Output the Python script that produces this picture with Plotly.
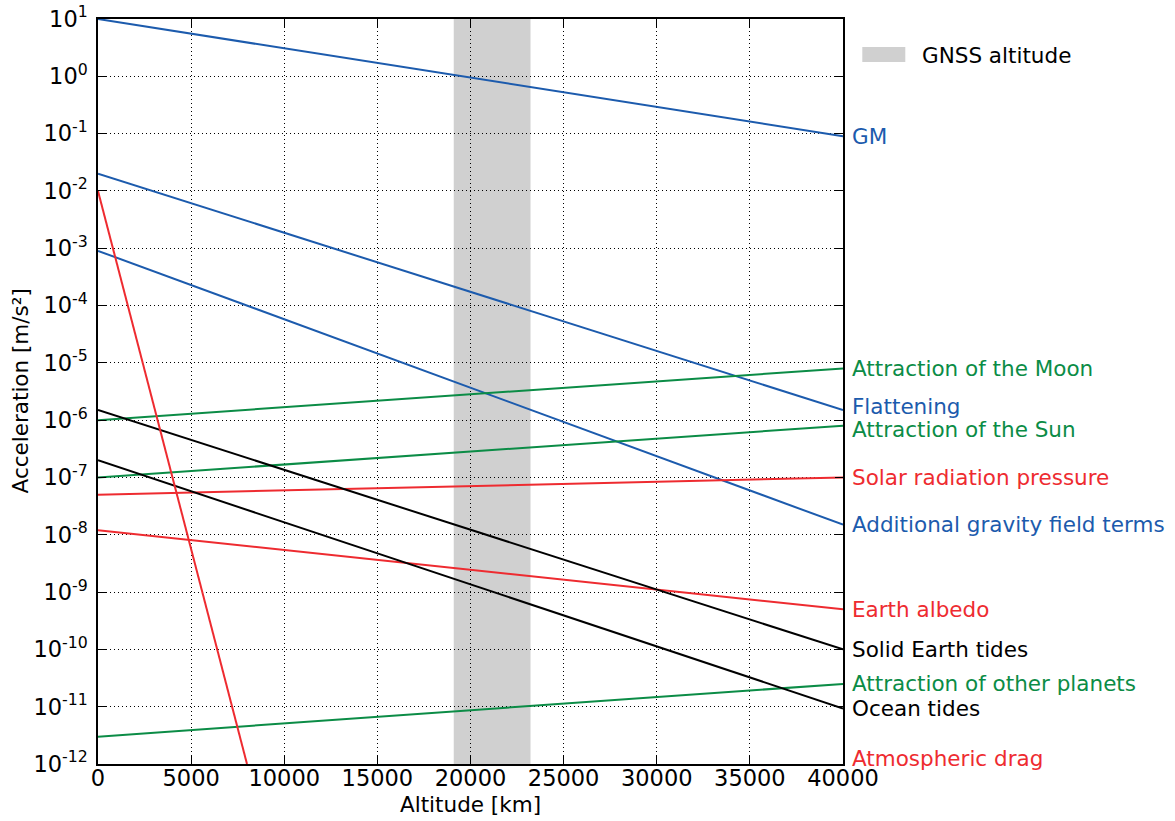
import math
import plotly.graph_objects as go

# ---- data ----
altitude_km = [0, 40000]
series_names = ["GM", "Flattening", "Additional gravity field terms",
                "Attraction of the Moon", "Attraction of the Sun",
                "Attraction of other planets", "Solar radiation pressure",
                "Earth albedo", "Solid Earth tides", "Ocean tides"]
accel_start = [10.0, 2e-2, 9e-4, 1e-6, 1e-7, 3e-12, 5e-8, 1.2e-8, 1.5e-6, 2e-7]
accel_end = [9e-2, 1.5e-6, 1.5e-8, 8e-6, 8e-7, 2.5e-11, 1e-7, 5e-10, 1e-10, 9.3e-12]
series_group = ["grav", "grav", "grav", "third", "third", "third",
                "nongrav", "nongrav", "tides", "tides"]

drag_altitude_km = [0, 8000]
drag_accel = [1e-2, 1e-12]

gnss_band_km = [19100, 23222]

x_ticks = [0, 5000, 10000, 15000, 20000, 25000, 30000, 35000, 40000]
y_exponents = list(range(-12, 2))

# ---- styles ----
colors = {"grav": "#1c5bad", "third": "#0b8c46", "nongrav": "#ee2b30", "tides": "#000000"}
label_yshift = {"Flattening": 4, "Attraction of the Sun": -4}
FONT = "DejaVu Sans"
LBL = 21.5
TICK = 22.5

L, R, T, B = 97.7, 842.7, 19.0, 763.7
W, H = 1175, 821


def px2paper_x(px):
    return (px - L) / (R - L)


def px2paper_y(py):
    return (B - py) / (B - T)


fig = go.Figure()

fig.add_vrect(x0=gnss_band_km[0], x1=gnss_band_km[1], fillcolor="#d0d0d0",
              line_width=0, layer="below")

for name, a0, a1, g in zip(series_names, accel_start, accel_end, series_group):
    fig.add_trace(go.Scatter(x=altitude_km, y=[a0, a1], mode="lines",
                             line=dict(color=colors[g], width=2),
                             name=name, showlegend=False, hoverinfo="name"))
    fig.add_annotation(x=1, xref="paper", y=math.log10(a1), yref="y",
                       text=name, showarrow=False, xanchor="left", yanchor="middle",
                       xshift=7, yshift=label_yshift.get(name, 0),
                       font=dict(family=FONT, size=LBL, color=colors[g]))

fig.add_trace(go.Scatter(x=drag_altitude_km, y=drag_accel, mode="lines",
                         line=dict(color=colors["nongrav"], width=2),
                         name="Atmospheric drag", showlegend=False, cliponaxis=True))
fig.add_annotation(x=1, xref="paper", y=-12, yref="y", text="Atmospheric drag",
                   showarrow=False, xanchor="left", yanchor="middle", xshift=7, yshift=6,
                   font=dict(family=FONT, size=LBL, color=colors["nongrav"]))

# manual legend for GNSS band
fig.add_shape(type="rect", xref="paper", yref="paper",
              x0=px2paper_x(862), x1=px2paper_x(905),
              y0=px2paper_y(62), y1=px2paper_y(47),
              fillcolor="#d0d0d0", line_width=0)
fig.add_annotation(x=px2paper_x(920), xref="paper", y=px2paper_y(55), yref="paper",
                   text="GNSS altitude", showarrow=False, xanchor="left", yanchor="middle",
                   font=dict(family=FONT, size=LBL, color="black"))

# axis titles
fig.add_annotation(x=px2paper_x(470), xref="paper", y=px2paper_y(804), yref="paper",
                   text="Altitude [km]", showarrow=False, xanchor="center", yanchor="middle",
                   font=dict(family=FONT, size=LBL, color="black"))
fig.add_annotation(x=px2paper_x(20), xref="paper", y=px2paper_y(391), yref="paper",
                   text="Acceleration [m/s²]", showarrow=False, textangle=-90,
                   xanchor="center", yanchor="middle",
                   font=dict(family=FONT, size=LBL, color="black"))

fig.update_layout(
    width=W, height=H,
    margin=dict(l=L, r=W - R, t=T, b=H - B, autoexpand=False),
    plot_bgcolor="white", paper_bgcolor="white",
    font=dict(family=FONT, size=TICK, color="black"),
)
grid = dict(showgrid=True, gridcolor="black", griddash="1px,3px", gridwidth=1,
            showline=True, linecolor="black", linewidth=1.5, mirror="ticks",
            ticks="inside", ticklen=8, tickcolor="black", tickwidth=1, zeroline=False,
            automargin=False, tickfont=dict(family=FONT, size=TICK, color="black"))
fig.update_xaxes(range=[0, 40000], tickvals=x_ticks,
                 ticktext=[str(t) for t in x_ticks], ticklabelstandoff=-7, **grid)
fig.update_yaxes(type="log", range=[-12, 1],
                 tickvals=[10 ** e for e in y_exponents],
                 ticktext=["10<sup>%d</sup>" % e for e in y_exponents],
                 minor=dict(ticks="inside", ticklen=4, tickcolor="black", showgrid=False),
                 ticklabelstandoff=4,
                 **grid)

fig.write_html("out.html", config={"displayModeBar": False},
               post_script="document.body.style.margin='0';document.body.style.overflow='hidden';")
